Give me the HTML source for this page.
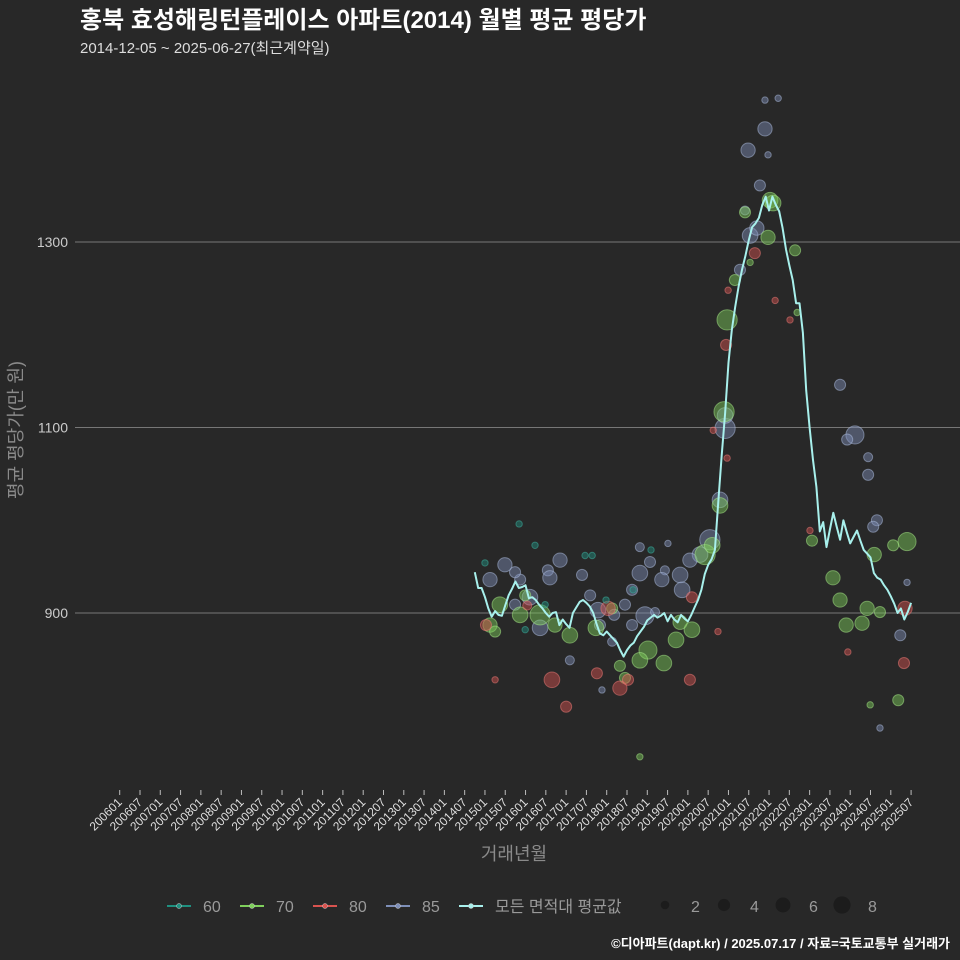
<!DOCTYPE html>
<html><head><meta charset="utf-8">
<style>
html,body{margin:0;padding:0;background:#282828;}
svg{display:block;font-family:"Liberation Sans","Noto Sans CJK KR",sans-serif;}
</style></head>
<body>
<svg id="chart" width="960" height="960" viewBox="0 0 960 960">
<rect x="0" y="0" width="960" height="960" fill="#282828"/>
<text x="80" y="28" font-size="24" font-weight="bold" fill="#ffffff">홍북 효성해링턴플레이스 아파트(2014) 월별 평균 평당가</text>
<text x="80" y="53" font-size="15" fill="#dddddd">2014-12-05 ~ 2025-06-27(최근계약일)</text>
<g id="grid"></g>
<g id="yaxis"></g>
<g id="xaxis"></g>
<g id="points"></g>
<g id="line"></g>
<text x="22" y="430" font-size="18" fill="#8a8a8a" text-anchor="middle" transform="rotate(-90 22 430)">평균 평당가(만 원)</text>
<text x="514" y="860" font-size="18" fill="#8a8a8a" text-anchor="middle">거래년월</text>
<g id="legend"></g>
<text x="950" y="948" font-size="13" font-weight="bold" fill="#ffffff" text-anchor="end">©디아파트(dapt.kr) / 2025.07.17 / 자료=국토교통부 실거래가</text>
</svg>
<script>
// ---- data ----
const yTicks = [900, 1100, 1300];
const lineStartMonth = 105; // months since 2006-01
const lineValues = [944,927,927,917,905,896,902,898,897,908,919,926,934,927,928,930,916,917,914,909,905,900,896,900,901,887,893,888,884,900,906,912,914,911,907,900,888,878,876,880,876,872,868,860,853,860,865,868,875,880,885,892,895,898,895,897,900,891,898,893,890,898,894,891,898,906,914,925,942,952,958,968,1020,1070,1115,1170,1205,1230,1252,1270,1285,1302,1316,1320,1326,1340,1349,1334,1349,1340,1333,1315,1292,1275,1259,1234,1234,1202,1140,1100,1065,1036,988,998,971,990,1008,993,979,1000,987,975,982,989,978,968,964,960,943,938,936,930,925,918,910,900,905,893,901,911];
const ptArea = ["85","85","85","85","85","85","85","85","85","85","85","85","85","85","85","85","85","85","85","85","85","85","85","85","85","85","85","85","85","85","85","85","85","85","85","85","85","85","85","85","85","85","85","85","85","85","85","85","85","85","85","85","85","85","85","85","85",
"70","70","70","70","70","70","70","70","70","70","70","70","70","70","70","70","70","70","70","70","70","70","70","70","70","70","70","70","70","70","70","70","70","70","70","70","70","70","70","70","70","70","70","70",
"80","80","80","80","80","80","80","80","80","80","80","80","80","80","80","80","80","80","80","80","80","80","80",
"60","60","60","60","60","60","60","60","60","60"];
const ptMonth = [190.8,194.7,190.8,185.8,191.7,189.3,184.9,186.4,188.4,183.4,179,179,177.5,174.5,171.6,168.6,165.7,166.3,213,217.4,215.1,221.3,221.3,223.9,222.8,230.8,224.8,232.8,113.9,109.5,118.4,116.9,121.3,126.6,130.2,127.2,136.7,139.1,141.4,149.4,151.5,153.8,156.8,161.2,160.3,155.3,151.5,133.1,146.2,153.8,162.1,124.3,142,
142.6,145.6,158.3,116.9,
192.3,193.2,184.9,191.7,199.7,181.9,179.6,178.7,177.5,173.1,175.2,169.2,164.5,165.7,160.9,156.2,153.8,147.9,149.4,145.6,140.8,133.1,128.7,124.3,112.4,109.5,111,118.4,119.9,232.8,228.7,223.1,210.9,204.7,213,214.8,219.5,221,224.8,230.2,221.9,153.8,200.3,186.4,
179.3,179.9,187.8,193.8,198.2,175.5,179.6,169.2,168.6,176.9,147.9,150.3,141.1,127.8,132,144.4,120.5,108.3,111,204.1,215.3,232.2,231.9,
108,118.1,122.8,137.6,139.7,143.8,151.8,157.1,119.9,125.8];
const ptPrice = [1453,1455,1422,1399,1394,1361,1334,1307,1315,1270,1099,1113,1022,979,963,957,941,925,1146,1092,1087,1068,1049,1000,993,876,776,933,952,936,936,944,917,946,957,938,941,919,903,909,925,943,955,946,936,897,887,849,898,971,975,884,887,
817,869,901,909,
1345,1342,1332,1305,1291,1259,1216,1117,1016,963,973,882,871,890,846,860,849,843,830,905,884,876,887,898,909,887,880,898,919,977,973,963,938,978,914,887,889,905,901,806,801,745,1224,1278,
1189,1248,1288,1237,1216,1097,1067,917,828,880,819,828,835,828,799,905,908,887,828,989,858,905,846,
954,996,973,962,962,914,925,968,882,909];
const ptCount = [1,1,5,5,1,3,2,6,5,3,10,6,6,10,6,5,6,6,3,8,3,2,3,3,3,3,1,1,5,5,3,3,6,3,5,5,3,3,6,3,3,6,3,2,5,8,3,2,3,2,1,6,3,
1,2,2,3,
6,6,3,5,3,3,10,10,6,10,6,6,6,5,6,8,6,3,3,3,6,6,5,10,6,5,3,6,3,8,3,5,5,3,5,5,5,5,3,3,1,1,1,1,
3,1,3,1,1,1,1,3,3,1,5,3,3,6,3,5,2,3,1,1,1,5,3,
1,1,1,1,1,1,1,1,1,1];
const legendAreas = ["60","70","80","85"];
const sizeLegend = [2,4,6,8];

// ---- scales ----
const NS = "http://www.w3.org/2000/svg";
const xOf = m => 119.7 + m * 3.382;
const yOf = v => 613 - (v - 900) * 0.9275;
const rOf = c => 3.2 * Math.sqrt(c);
const colors = {"60":"#1f9080","70":"#7fd05c","80":"#d9534f","85":"#7e8fb8"};
const strokes = {"60":"#3fb8a6","70":"#a9ec8a","80":"#f07e7a","85":"#b0bfe2"};
function mk(tag, attrs, parent){const e=document.createElementNS(NS,tag);for(const k in attrs)e.setAttribute(k,attrs[k]);parent.appendChild(e);return e;}

const grid=document.getElementById('grid'), ya=document.getElementById('yaxis');
yTicks.forEach(t=>{
  const l=mk('line',{x1:75,x2:960,y1:yOf(t),y2:yOf(t),stroke:'#777',"stroke-width":1},grid);
  
  
  const tx=mk('text',{x:68,y:yOf(t)+5,"font-size":14,fill:'#cccccc',"text-anchor":'end'},ya);
  tx.textContent=t;
  
  
});

const xa=document.getElementById('xaxis');
for(let m=0;m<=234;m+=6){
  const yr=2006+Math.floor(m/12), mo=(m%12)+1;
  const lab=''+yr+(mo<10?'0':'')+mo;
  const x=xOf(m);
  const tk=mk('line',{x1:x,x2:x,y1:790,y2:795,stroke:'#bbb',"stroke-width":1},xa);
  
  
  const tx=mk('text',{x:x+3,y:803,"font-size":12,fill:'#dddddd',"text-anchor":'end',transform:`rotate(-45 ${x+3} 803)`},xa);
  tx.textContent=lab;
  
  
}

const pg=document.getElementById('points');
for(let i=0;i<ptMonth.length;i++){
  const a=ptArea[i];
  const c=mk('circle',{cx:xOf(ptMonth[i]),cy:yOf(ptPrice[i]),r:rOf(ptCount[i]),fill:colors[a],"fill-opacity":0.45,stroke:strokes[a],"stroke-opacity":0.5,"stroke-width":1},pg);
  
  
}

const lg=document.getElementById('line');
const pts=lineValues.map((v,i)=>xOf(lineStartMonth+i).toFixed(1)+','+yOf(v).toFixed(1)).join(' ');
const pl=mk('polyline',{points:pts,fill:'none',stroke:'#a8f0ec',"stroke-width":2,"stroke-linejoin":'round'},lg);



const leg=document.getElementById('legend');
let lx=167;
legendAreas.concat(["all"]).forEach(a=>{
  const col=a==="all"?"#a8f0ec":colors[a];
  const g=mk('g',{},leg);
  
  
  mk('line',{x1:lx,x2:lx+24,y1:906,y2:906,stroke:col,"stroke-width":2},g);
  mk('circle',{cx:lx+12,cy:906,r:2.5,fill:col,stroke:'#ccc',"stroke-width":0.5},g);
  const t=mk('text',{x:lx+36,y:912,"font-size":16,fill:'#9a9a9a'},g);
  t.textContent=a==="all"?"모든 면적대 평균값":a;
  lx+= a==="all"?0:73;
});
let sx=665;
sizeLegend.forEach(s=>{
  const g=mk('g',{},leg);
  
  
  mk('circle',{cx:sx,cy:905,r:rOf(s)*0.95,fill:'#1c1c1c'},g);
  const t=mk('text',{x:sx+26,y:912,"font-size":16,fill:'#9a9a9a'},g);
  t.textContent=s;
  sx+=59;
});
</script>
</body></html>
